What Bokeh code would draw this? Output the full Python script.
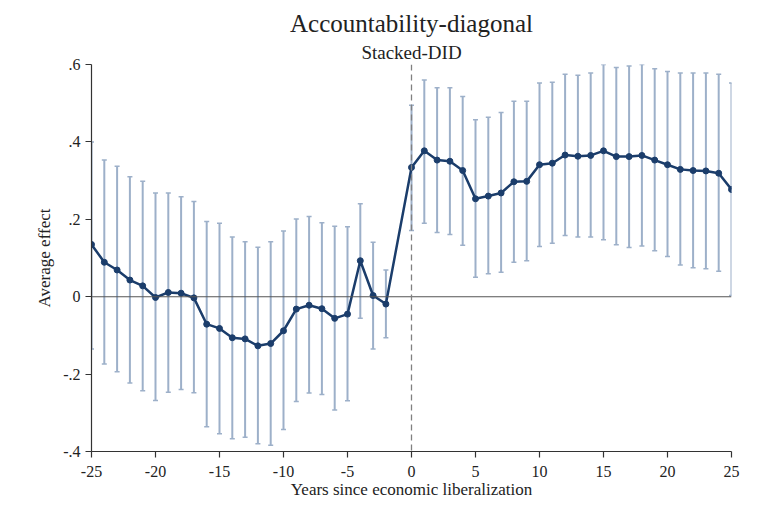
from bokeh.plotting import figure
from bokeh.models import (Range1d, FixedTicker, Span, Whisker, TeeHead,
                          ColumnDataSource, Title)
from bokeh.embed import file_html
from bokeh.resources import INLINE

# ---- data ----
years = [-25, -24, -23, -22, -21, -20, -19, -18, -17, -16, -15, -14, -13,
         -12, -11, -10, -9, -8, -7, -6, -5, -4, -3, -2,
         0, 1, 2, 3, 4, 5, 6, 7, 8, 9, 10, 11, 12, 13, 14, 15, 16, 17, 18,
         19, 20, 21, 22, 23, 24, 25]
effect = [0.135, 0.089, 0.069, 0.043, 0.028, -0.002, 0.011, 0.009, -0.003,
          -0.071, -0.082, -0.106, -0.109, -0.127, -0.121, -0.088, -0.032,
          -0.022, -0.031, -0.056, -0.045, 0.093, 0.003, -0.019,
          0.334, 0.377, 0.353, 0.350, 0.326, 0.253, 0.260, 0.268, 0.297,
          0.298, 0.341, 0.345, 0.366, 0.363, 0.365, 0.377, 0.362, 0.362,
          0.365, 0.353, 0.341, 0.329, 0.326, 0.325, 0.319, 0.277]
ci_upper = [0.400, 0.353, 0.337, 0.310, 0.298, 0.268, 0.268, 0.258, 0.246,
            0.194, 0.190, 0.154, 0.142, 0.128, 0.142, 0.170, 0.201, 0.207,
            0.191, 0.182, 0.181, 0.240, 0.141, 0.069,
            0.495, 0.560, 0.540, 0.540, 0.517, 0.457, 0.464, 0.476, 0.505,
            0.505, 0.552, 0.554, 0.575, 0.572, 0.578, 0.600, 0.592, 0.596,
            0.600, 0.589, 0.582, 0.578, 0.578, 0.578, 0.575, 0.552]
ci_lower = [-0.135, -0.174, -0.194, -0.223, -0.243, -0.268, -0.247, -0.240,
            -0.248, -0.336, -0.354, -0.367, -0.363, -0.380, -0.384, -0.343,
            -0.271, -0.249, -0.253, -0.293, -0.269, -0.056, -0.135, -0.106,
            0.171, 0.190, 0.166, 0.161, 0.133, 0.050, 0.059, 0.063, 0.089,
            0.093, 0.130, 0.138, 0.158, 0.154, 0.154, 0.147, 0.134, 0.127,
            0.131, 0.119, 0.104, 0.082, 0.075, 0.072, 0.066, 0.003]

x_ticks = [-25, -20, -15, -10, -5, 0, 5, 10, 15, 20, 25]
x_tick_labels = ["-25", "-20", "-15", "-10", "-5", "0", "5", "10", "15",
                 "20", "25"]
y_ticks = [-0.4, -0.2, 0, 0.2, 0.4, 0.6]
y_tick_labels = ["-.4", "-.2", "0", ".2", ".4", ".6"]

title_text = "Accountability-diagonal"
subtitle_text = "Stacked-DID"
x_label = "Years since economic liberalization"
y_label = "Average effect"

FONT = "Liberation Serif"
TEXT = "#222222"
NAVY = "#1b3d6b"
CI = "#9db0c9"

src = ColumnDataSource(dict(x=years, y=effect, lo=ci_lower, hi=ci_upper))

p = figure(frame_width=640, frame_height=387,
           x_range=Range1d(-25, 25), y_range=Range1d(-0.4, 0.6),
           output_backend="svg", toolbar_location=None, title=None,
           min_border_left=91, min_border_right=30, min_border_top=64,
           min_border_bottom=10)

p.add_layout(Title(text=subtitle_text, align="center", text_font=FONT,
                   text_font_size="19px", text_font_style="normal",
                   text_color=TEXT, standoff=4), "above")
p.add_layout(Title(text=title_text, align="center", text_font=FONT,
                   text_font_size="25px", text_font_style="normal",
                   text_color=TEXT, standoff=2), "above")

p.background_fill_color = "white"
p.border_fill_color = "white"
p.outline_line_color = None
p.xgrid.visible = False
p.ygrid.visible = False

for ax in (p.xaxis[0], p.yaxis[0]):
    ax.axis_line_color = "#333333"
    ax.axis_line_width = 1.2
    ax.major_tick_line_color = "#333333"
    ax.major_tick_line_width = 1.2
    ax.major_tick_out = 6
    ax.major_tick_in = 0
    ax.minor_tick_line_color = None
    ax.major_label_text_font = FONT
    ax.major_label_text_font_size = "16px"
    ax.major_label_text_color = TEXT
    ax.axis_label_text_font = FONT
    ax.axis_label_text_font_size = "17px"
    ax.axis_label_text_font_style = "normal"
    ax.axis_label_text_color = TEXT

p.xaxis.ticker = FixedTicker(ticks=x_ticks)
p.yaxis.ticker = FixedTicker(ticks=y_ticks)
p.xaxis.major_label_overrides = {t: l for t, l in zip(x_ticks, x_tick_labels)}
p.yaxis.major_label_overrides = {t: l for t, l in zip(y_ticks, y_tick_labels)}
p.xaxis.axis_label = x_label
p.yaxis.axis_label = y_label
p.xaxis.major_label_standoff = 8
p.xaxis.axis_label_standoff = 0
p.yaxis.major_label_standoff = 5
p.yaxis.axis_label_standoff = 6

# confidence intervals
p.add_layout(Whisker(source=src, base="x", upper="hi", lower="lo",
                     line_color=CI, line_width=2,
                     upper_head=TeeHead(size=5, line_color=CI, line_width=1.5),
                     lower_head=TeeHead(size=5, line_color=CI, line_width=1.5)))

# reference lines
p.add_layout(Span(location=0, dimension="width", line_color="#555555",
                  line_width=1.1))
p.add_layout(Span(location=0, dimension="height", line_color="#808080",
                  line_width=1.3, line_dash="6 4"))

# estimates
p.line("x", "y", source=src, line_color=NAVY, line_width=2.5)
p.scatter("x", "y", source=src, size=6, fill_color=NAVY, line_color=NAVY)

open("out.html", "w").write(file_html(p, INLINE))
